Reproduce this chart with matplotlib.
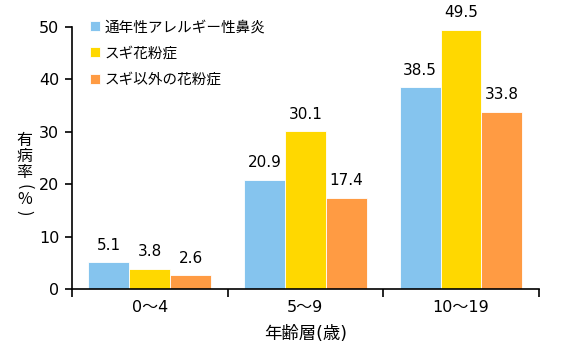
import numpy as np
import matplotlib
matplotlib.use('Agg')
import matplotlib.pyplot as plt

plt.rcParams['font.family'] = ['DejaVu Sans', 'Noto Sans CJK JP']

ages = ['0～4', '5～9', '10～19']
series = ['通年性アレルギー性鼻炎', 'スギ花粉症', 'スギ以外の花粉症']
perennial = [5.1, 20.9, 38.5]
cedar = [3.8, 30.1, 49.5]
other_pollen = [2.6, 17.4, 33.8]
colors = ['#85C4EE', '#FFD800', '#FF9B43']

fig = plt.figure(figsize=(5.8, 3.5), dpi=100)
ax = fig.add_axes([0.124, 0.174, 0.805, 0.749])

x = np.arange(len(ages))
width = 0.263
for i, (vals, name) in enumerate(zip([perennial, cedar, other_pollen], series)):
    bars = ax.bar(x + (i - 1) * width, vals, width=width, color=colors[i],
                  edgecolor='white', linewidth=0.6, label=name)
    ax.bar_label(bars, labels=['%.1f' % v for v in vals], padding=7, fontsize=11)

ax.set_xlim(-0.5, 2.5)
ax.set_ylim(0, 50)
ax.set_yticks([0, 10, 20, 30, 40, 50])
ax.set_xticks(x)
ax.set_xticklabels(ages, fontsize=11.5)
ax.set_xticks([-0.5, 0.5, 1.5, 2.5], minor=True)
ax.tick_params(axis='x', which='major', length=0, pad=8)
ax.tick_params(axis='x', which='minor', length=6, width=1.2)
ax.tick_params(axis='y', length=5, width=1.2, labelsize=11.5, pad=4)
for s in ['top', 'right']:
    ax.spines[s].set_visible(False)
for s in ['left', 'bottom']:
    ax.spines[s].set_linewidth(1.2)

ax.set_xlabel('年齢層(歳)', fontsize=12.5, labelpad=7)

# vertical y label, written top to bottom; brackets turned sideways
ylab_chars = ['有', '病', '率', '(', '%', ')']
ylab_rot = [0, 0, 0, -90, 0, -90]
ylab_ypix = [140, 156, 172, 187, 200, 213]
for ch, rot, yp in zip(ylab_chars, ylab_rot, ylab_ypix):
    fig.text(0.042, 1 - yp / 350, ch, ha='center', va='center',
             rotation=rot, fontsize=11.5,
             family=['Noto Sans CJK JP', 'DejaVu Sans'])

ax.legend(loc='upper left', bbox_to_anchor=(0.01, 1.08), frameon=False,
          fontsize=10.5, handlelength=0.7, handleheight=0.7, handletextpad=0.3,
          labelspacing=0.78)

fig.savefig('out.png', dpi=100)
